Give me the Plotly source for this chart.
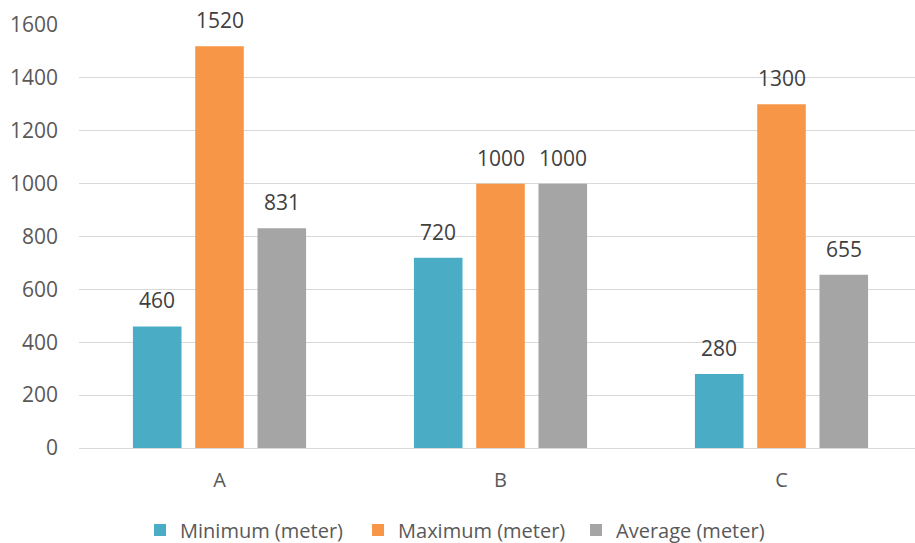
import plotly.graph_objects as go

categories = ["A", "B", "C"]
series_names = ["Minimum (meter)", "Maximum (meter)", "Average (meter)"]
minimum = [460, 720, 280]
maximum = [1520, 1000, 1300]
average = [831, 1000, 655]
colors = ["#4BACC6", "#F79646", "#A5A5A5"]
y_ticks = [0, 200, 400, 600, 800, 1000, 1200, 1400, 1600]

FONT = "Open Sans"
BARGAP = 0.335
GROUPGAP = 0.22

fig = go.Figure()
all_series = [minimum, maximum, average]
for name, vals, col in zip(series_names, all_series, colors):
    fig.add_trace(go.Bar(x=categories, y=vals, name=name, marker_color=col,
                         marker_line_width=0))

slot = (1 - BARGAP) / len(all_series)
annotations = []
for i, vals in enumerate(all_series):
    for j, v in enumerate(vals):
        annotations.append(dict(
            x=j + (i - (len(all_series) - 1) / 2) * slot, y=v, xref="x", yref="y",
            text=str(v), showarrow=False, yanchor="middle", yshift=26,
            font=dict(family=FONT, size=21, color="#404040")))

fig.update_layout(
    width=915, height=543,
    margin=dict(l=79, r=0, t=25, b=95, autoexpand=False),
    paper_bgcolor="white", plot_bgcolor="white",
    barmode="group", bargap=BARGAP, bargroupgap=GROUPGAP,
    font=dict(family=FONT, size=20, color="#595959"),
    annotations=annotations,
    showlegend=True,
    legend=dict(orientation="h", x=0.073, xanchor="left",
                yref="container", y=13 / 543, yanchor="middle",
                entrywidth=173, entrywidthmode="pixels",
                font=dict(family=FONT, size=20, color="#595959"),
                itemclick=False, itemdoubleclick=False),
    xaxis=dict(range=[-0.5, -0.5 + 836 / 281], showgrid=False, showline=False,
               ticks="", ticklabelstandoff=18,
               tickfont=dict(family=FONT, size=20, color="#595959")),
    yaxis=dict(range=[0, 1600], tickvals=y_ticks, showgrid=True, gridcolor="#D9D9D9",
               gridwidth=1, zeroline=True, zerolinecolor="#D9D9D9", zerolinewidth=1,
               showline=False, ticks="", ticklabelstandoff=20,
               tickfont=dict(family=FONT, size=21, color="#595959")),
)

fig.write_html("out.html")
